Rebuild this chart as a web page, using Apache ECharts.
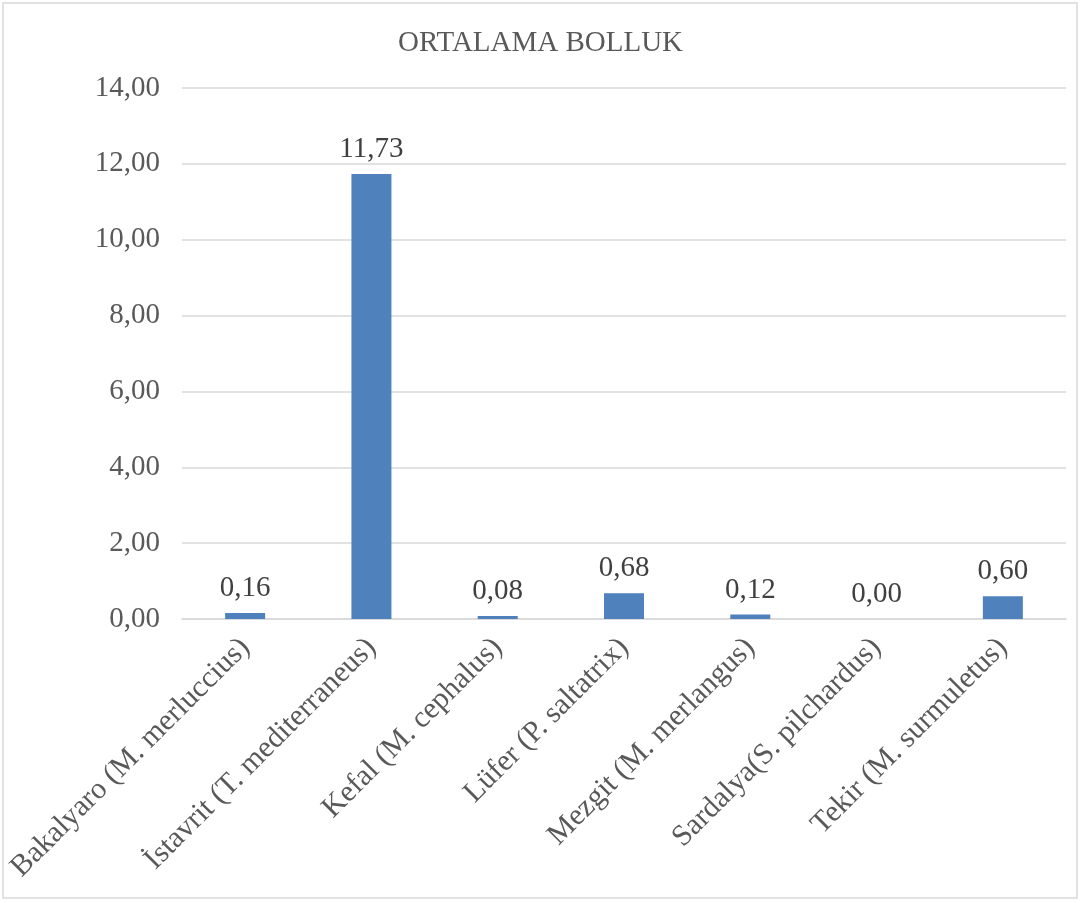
<!DOCTYPE html>
<html>
<head>
<meta charset="utf-8">
<script src="https://cdn.jsdelivr.net/npm/echarts@6/dist/echarts.min.js"></script>
<style>
html, body { margin: 0; padding: 0; background: #fff; }
#main { width: 1081px; height: 903px; }
</style>
</head>
<body>
<div id="main"></div>
<script>
// veriler
var turler = ['Bakalyaro (M. merluccius)', 'İstavrit (T. mediterraneus)', 'Kefal (M. cephalus)',
	'Lüfer (P. saltatrix)', 'Mezgit (M. merlangus)', 'Sardalya(S. pilchardus)', 'Tekir (M. surmuletus)'];
var ortalamaBolluk = [0.16, 11.73, 0.08, 0.68, 0.12, 0.00, 0.60];
var yEksen = { min: 0, max: 14, interval: 2 };

function virgul(v) {
	return Number(v).toFixed(2).replace('.', ',');
}

var serif = '"Liberation Serif", "Times New Roman", serif';
var chart = echarts.init(document.getElementById('main'));
var option = {
	backgroundColor: '#fff',
	animation: false,
	title: {
		text: 'ORTALAMA BOLLUK',
		left: 'center',
		top: 24,
		textStyle: { fontFamily: serif, fontSize: 29, fontWeight: 'normal', color: '#595959' }
	},
	graphic: [{
		type: 'rect',
		shape: { x: 3, y: 3, width: 1074, height: 895 },
		style: { fill: 'none', stroke: '#D9D9D9', lineWidth: 1.5 }
	}],
	grid: { left: 182, right: 15, top: 88, bottom: 284 },
	xAxis: {
		type: 'category',
		data: turler,
		axisLine: { lineStyle: { color: '#D9D9D9', width: 1.5 } },
		axisTick: { show: false },
		axisLabel: {
			rotate: 45,
			interval: 0,
			margin: 24,
			fontFamily: serif,
			fontSize: 30,
			color: '#595959'
		}
	},
	yAxis: {
		type: 'value',
		min: yEksen.min,
		max: yEksen.max,
		interval: yEksen.interval,
		axisLine: { show: false },
		axisTick: { show: false },
		splitLine: { lineStyle: { color: '#D9D9D9', width: 1.5 } },
		axisLabel: {
			margin: 22,
			fontFamily: serif,
			fontSize: 29,
			color: '#595959',
			formatter: virgul
		}
	},
	series: [{
		type: 'bar',
		data: ortalamaBolluk,
		barWidth: 40,
		itemStyle: { color: '#4F81BD' },
		label: {
			show: true,
			position: 'top',
			distance: 10,
			fontFamily: serif,
			fontSize: 29,
			color: '#404040',
			formatter: function(p) { return virgul(p.value); }
		}
	}]
};
chart.setOption(option);
</script>
</body>
</html>
